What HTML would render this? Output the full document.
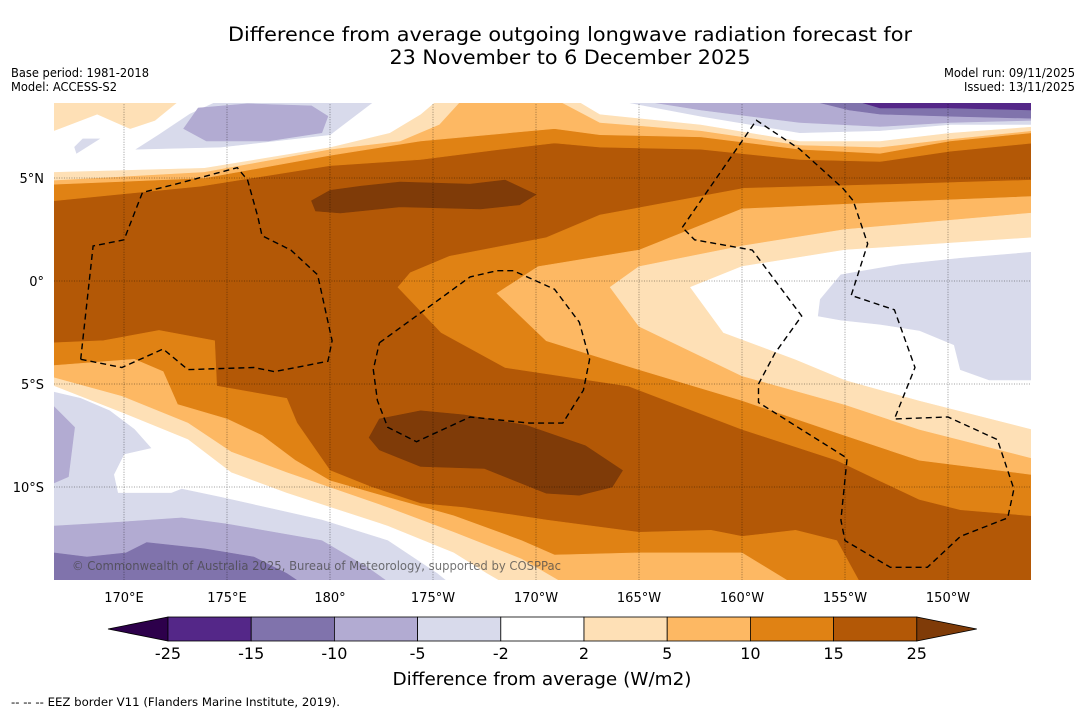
<!DOCTYPE html>
<html><head><meta charset="utf-8">
<style>
html,body{margin:0;padding:0;background:#fff;}
svg{display:block;font-family:"DejaVu Sans","Liberation Sans",sans-serif;}
</style></head>
<body>
<svg id="chart" width="1085" height="713" viewBox="0 0 1085 713" xmlns="http://www.w3.org/2000/svg">
  <rect x="0" y="0" width="1085" height="713" fill="#fff"/>
  <text x="570" y="41" text-anchor="middle" font-size="19.5" textLength="684" lengthAdjust="spacingAndGlyphs" fill="#000">Difference from average outgoing longwave radiation forecast for</text>
  <text x="570" y="64" text-anchor="middle" font-size="19.5" textLength="361" lengthAdjust="spacingAndGlyphs" fill="#000">23 November to 6 December 2025</text>
  <text x="11" y="77" font-size="12" textLength="138" lengthAdjust="spacingAndGlyphs" fill="#000">Base period: 1981-2018</text>
  <text x="11" y="91" font-size="12" textLength="106" lengthAdjust="spacingAndGlyphs" fill="#000">Model: ACCESS-S2</text>
  <text x="1075" y="77" font-size="12" text-anchor="end" textLength="131" lengthAdjust="spacingAndGlyphs" fill="#000">Model run: 09/11/2025</text>
  <text x="1075" y="91" font-size="12" text-anchor="end" textLength="111" lengthAdjust="spacingAndGlyphs" fill="#000">Issued: 13/11/2025</text>
  <defs><clipPath id="mapclip"><rect x="54" y="103" width="977" height="477"/></clipPath></defs>
  <g id="map" clip-path="url(#mapclip)"></g>
  <g id="axes"></g>
  <g id="colorbar"></g>
  <text x="542" y="685" text-anchor="middle" font-size="18" textLength="299" lengthAdjust="spacingAndGlyphs" fill="#000">Difference from average (W/m2)</text>
  <text x="11" y="706" font-size="11.5" textLength="329" lengthAdjust="spacingAndGlyphs" fill="#000">--  --  -- EEZ border V11 (Flanders Marine Institute, 2019).</text>
</svg>
<script>
// ---- data ----
const lonTicks = [170,175,180,185,190,195,200,205,210];
const lonTickLabels = ["170°E","175°E","180°","175°W","170°W","165°W","160°W","155°W","150°W"];
const latTicks = [5,0,-5,-10];
const latTickLabels = ["5°N","0°","5°S","10°S"];
const levelLabels = ["-25","-15","-10","-5","-2","2","5","10","15","25"];
const levelColors = ["#542788","#8073ac","#b2abd2","#d8daeb","#ffffff","#fee0b6","#fdb863","#e08214","#b35806"];
const extendLowColor = "#2d004b";
const extendHighColor = "#7f3b08";
const mapBounds = {lonMin:166.6, lonMax:214.1, latMin:-14.6, latMax:8.7};

// contour bands (lon, lat) — painted in order
const topBand1015 = [[166.6,3.9],[173.7,4.6],[180.0,5.6],[184.4,5.9],[188.3,6.4],[190.9,6.7],[193.1,6.5],[198.0,6.4],[202.8,5.9],[206.7,5.8],[210.1,6.3],[214.1,6.7]];
const topBand510 = [[166.6,4.7],[173.9,5.0],[180.0,6.1],[184.4,6.8],[190.9,7.4],[193.1,7.1],[198.0,7.0],[202.8,6.4],[206.7,6.2],[210.1,6.8],[214.1,7.2]];
const topBand25Left = [[166.6,4.9],[173.9,5.3],[180.0,6.4],[183.4,6.8],[185.3,7.6],[186.3,8.7]];
const topBand25Right = [[191.2,8.7],[193.1,7.7],[198.0,7.3],[202.8,6.6],[206.7,6.5],[210.1,6.9],[214.1,7.3]];
const topWhiteLeft = [[166.6,5.3],[173.9,5.5],[180.0,6.5],[182.9,7.2],[184.4,8.1],[185.1,8.7]];
const topStrip25 = [[166.6,7.3],[168.7,8.1],[170.3,7.4],[171.5,7.8],[172.6,8.7]];
const topWhiteRight = [[192.1,8.7],[193.1,8.1],[198.0,7.6],[202.8,6.8],[206.7,6.8],[210.1,7.2],[214.1,7.5]];
const topLav5Left = [[174.5,8.7],[173.2,8.1],[171.7,7.1],[170.6,6.4],[174.7,6.5],[180.0,7.1],[182.1,8.7]];
const topLav5Blob = [[167.7,6.2],[168.8,6.9],[168.0,6.9],[167.6,6.5]];
const topLav5Right = [[194.3,8.7],[198.0,8.0],[202.8,7.2],[206.7,7.3],[210.1,7.6],[214.1,7.6]];
const topLav10Blob = [[172.9,7.4],[173.6,8.4],[176.0,8.6],[179.1,8.5],[179.9,8.0],[179.6,7.2],[177.0,6.8],[174.0,6.8]];
const topLav10Right = [[195.5,8.7],[198.0,8.3],[202.8,7.7],[206.7,7.5],[210.1,7.7],[214.1,7.8]];
const topPurple15 = [[203.6,8.7],[205.2,8.3],[206.7,8.1],[210.1,8.0],[214.1,7.9]];
const topPurple25 = [[205.7,8.7],[206.7,8.4],[210.1,8.4],[214.1,8.3]];
const darkBlobNorth = [[179.1,3.9],[180.0,4.4],[181.5,4.6],[183.4,4.8],[186.8,4.7],[188.5,4.9],[190.0,4.2],[189.2,3.7],[187.3,3.5],[183.4,3.6],[180.5,3.3],[179.3,3.4]];
const darkBlobSouth = [[181.9,-7.6],[182.4,-6.7],[184.4,-6.3],[186.5,-6.5],[189.5,-7.0],[192.4,-8.0],[194.2,-9.2],[193.7,-10.0],[192.1,-10.4],[190.5,-10.3],[187.5,-9.1],[184.4,-9.0],[182.4,-8.2]];
const tongue1015 = [[214.1,4.9],[207.7,4.7],[200.1,4.5],[193.1,3.2],[190.5,2.1],[185.8,1.2],[183.9,0.4],[183.3,-0.3],[185.4,-2.5],[188.5,-4.2],[194.5,-5.1],[200.0,-7.2],[204.6,-8.7],[206.7,-9.7],[208.6,-10.6],[210.6,-11.1],[214.1,-11.4]];
const tongue510 = [[214.1,4.1],[206.7,3.8],[200.0,3.5],[195.0,1.5],[190.1,0.7],[188.1,-0.6],[190.5,-2.9],[195.0,-4.3],[200.0,-5.8],[205.0,-7.5],[208.6,-8.7],[214.1,-9.4]];
const tongue25 = [[214.1,3.3],[205.0,2.5],[200.0,1.7],[195.0,0.7],[193.6,-0.3],[195.0,-2.2],[200.0,-4.6],[205.0,-6.0],[208.6,-7.2],[214.1,-8.6]];
const tongueWhite = [[214.1,2.1],[205.0,1.5],[200.0,0.7],[197.5,-0.3],[199.1,-2.5],[202.6,-3.8],[205.0,-4.8],[208.6,-5.8],[214.1,-7.2]];
const tongueLav5 = [[203.8,-0.9],[204.8,0.3],[207.7,0.8],[210.6,1.1],[214.1,1.4],[214.1,-4.8],[212.0,-4.8],[210.6,-4.3],[210.3,-3.1],[208.6,-2.4],[206.7,-2.1],[204.8,-1.9],[203.7,-1.7]];
const southBand1015 = [[166.6,-3.0],[169.0,-2.9],[171.7,-2.4],[174.4,-2.9],[174.5,-5.1],[177.9,-5.7],[178.4,-6.9],[180.0,-9.2],[182.0,-10.0],[184.4,-10.8],[186.5,-11.0],[190.5,-11.6],[195.0,-12.2],[198.5,-12.1],[200.0,-12.4],[202.6,-12.1],[204.6,-12.6],[205.7,-14.6]];
const southBand510 = [[166.6,-4.1],[170.5,-3.8],[171.9,-4.4],[172.6,-6.0],[175.0,-6.7],[176.7,-7.5],[178.3,-8.7],[180.0,-9.7],[182.8,-10.5],[186.0,-11.4],[189.3,-12.6],[190.9,-13.3],[195.0,-13.2],[200.0,-13.2],[202.3,-14.6]];
const southBand25 = [[166.6,-4.7],[169.9,-5.6],[173.1,-6.9],[175.2,-8.3],[177.9,-9.3],[182.8,-11.0],[186.0,-12.2],[189.3,-13.5],[191.2,-14.6]];
const southWhite = [[166.6,-5.1],[169.9,-6.4],[173.1,-7.7],[175.2,-9.3],[177.9,-10.3],[182.8,-11.9],[186.0,-13.2],[187.6,-14.2],[188.3,-14.6]];
const southLav5 = [[166.6,-5.4],[167.9,-5.7],[169.3,-6.3],[170.5,-7.2],[171.3,-8.1],[170.0,-8.4],[169.5,-9.4],[169.7,-10.3],[172.3,-10.3],[172.8,-10.1],[174.7,-10.5],[179.6,-11.6],[182.8,-12.6],[185.2,-14.2],[185.7,-14.6]];
const southLav10Blob = [[166.6,-6.1],[167.6,-7.1],[167.3,-9.5],[166.6,-9.8]];
const southLav10 = [[166.6,-11.9],[169.9,-11.7],[172.8,-11.5],[175.0,-11.8],[179.6,-12.6],[181.8,-13.9],[182.8,-14.6]];
const southPurple15 = [[166.6,-13.2],[168.2,-13.4],[170.1,-13.2],[171.1,-12.7],[173.9,-13.0],[176.3,-13.4],[177.9,-14.2],[178.5,-14.6]];

const eezWest = [[167.9,-3.8],[168.5,1.7],[170.0,2.0],[170.9,4.3],[172.5,4.7],[175.5,5.5],[176.0,4.9],[176.5,3.1],[176.7,2.2],[178.1,1.5],[179.4,0.3],[180.1,-2.9],[179.9,-3.9],[177.3,-4.4],[176.3,-4.2],[173.1,-4.3],[171.9,-3.3],[169.9,-4.2],[167.9,-3.8]];
const eezCentral = [[182.4,-3.0],[186.8,0.2],[188.1,0.5],[188.9,0.5],[190.9,-0.4],[192.1,-2.0],[192.6,-3.8],[192.3,-5.3],[191.3,-6.9],[189.7,-6.9],[186.8,-6.6],[184.2,-7.8],[182.8,-7.1],[182.3,-5.8],[182.1,-4.3],[182.4,-3.0]];
const eezEast = [[197.1,2.6],[200.7,7.8],[202.8,6.4],[204.9,4.5],[205.4,3.9],[206.1,1.8],[205.3,-0.7],[207.4,-1.4],[208.4,-4.2],[207.4,-6.7],[210.0,-6.6],[212.4,-7.7],[213.2,-10.1],[212.9,-11.5],[210.6,-12.4],[209.0,-13.9],[207.2,-13.9],[205.0,-12.6],[204.8,-11.6],[205.1,-8.6],[200.8,-5.9],[200.8,-5.0],[201.6,-3.5],[202.9,-1.7],[200.5,1.5],[197.7,2.0],[197.1,2.6]];

// ---- axis functions ----
function X(lon){ return 124 + (lon - 170) * 20.6; }
function Y(lat){ return 281 - lat * 20.6; }
const NS = "http://www.w3.org/2000/svg";
function mk(tag, attrs, parent){
  const e = document.createElementNS(NS, tag);
  for (const k in attrs) e.setAttribute(k, attrs[k]);
  parent.appendChild(e); return e;
}
function ptsStr(arr){ return arr.map(p => X(p[0]).toFixed(1)+","+Y(p[1]).toFixed(1)).join(" "); }
const TL=[mapBounds.lonMin,mapBounds.latMax], TR=[mapBounds.lonMax,mapBounds.latMax];
const BL=[mapBounds.lonMin,mapBounds.latMin], BR=[mapBounds.lonMax,mapBounds.latMin];

const map = document.getElementById('map');
function band(arr, color, name){
  const p = mk('polygon', {points: ptsStr(arr), fill: color, stroke: color, 'stroke-width': 0.6}, map);
  
  
}
const base = mk('rect', {x:X(mapBounds.lonMin), y:Y(mapBounds.latMax), width:X(mapBounds.lonMax)-X(mapBounds.lonMin), height:Y(mapBounds.latMin)-Y(mapBounds.latMax), fill: levelColors[8]}, map);



band([TL].concat(topBand1015,[TR]), levelColors[7], 'band-10-15-north');
band([TL].concat(topBand510,[TR]), levelColors[6], 'band-5-10-north');
band([TL].concat(topBand25Left), levelColors[5], 'band-2-5-north-west');
band(topBand25Right.concat([TR]), levelColors[5], 'band-2-5-north-east');
band([TL].concat(topWhiteLeft), levelColors[4], 'band-neutral-north-west');
band([TL].concat(topStrip25), levelColors[5], 'band-2-5-north-corner');
band(topWhiteRight.concat([TR]), levelColors[4], 'band-neutral-north-east');
band(topLav5Left, levelColors[3], 'band-minus5-north-west');
band(topLav5Blob, levelColors[3], 'band-minus5-north-blob');
band(topLav5Right.concat([TR]), levelColors[3], 'band-minus5-north-east');
band(topLav10Blob, levelColors[2], 'band-minus10-north-west');
band(topLav10Right.concat([TR]), levelColors[2], 'band-minus10-north-east');
band(topPurple15.concat([TR]), levelColors[1], 'band-minus15-north-east');
band(topPurple25.concat([TR]), levelColors[0], 'band-minus25-north-east');
band(darkBlobNorth, extendHighColor, 'band-over-25-north');
band(tongue1015, levelColors[7], 'band-10-15-tongue');
band(tongue510, levelColors[6], 'band-5-10-tongue');
band(tongue25, levelColors[5], 'band-2-5-tongue');
band(tongueWhite, levelColors[4], 'band-neutral-tongue');
band(tongueLav5, levelColors[3], 'band-minus5-east');
band(southBand1015.concat([BL]), levelColors[7], 'band-10-15-south');
band(southBand510.concat([BL]), levelColors[6], 'band-5-10-south');
band(southBand25.concat([BL]), levelColors[5], 'band-2-5-south');
band(southWhite.concat([BL]), levelColors[4], 'band-neutral-south');
band(southLav5.concat([BL]), levelColors[3], 'band-minus5-south');
band(southLav10Blob, levelColors[2], 'band-minus10-south-west');
band(southLav10.concat([BL]), levelColors[2], 'band-minus10-south');
band(southPurple15.concat([BL]), levelColors[1], 'band-minus15-south');
band(darkBlobSouth, extendHighColor, 'band-over-25-south');

// gridlines
lonTicks.forEach(function(lon){
  const l = mk('line', {x1:X(lon), x2:X(lon), y1:Y(mapBounds.latMax), y2:Y(mapBounds.latMin), stroke:'rgba(0,0,0,0.5)', 'stroke-width':0.8, 'stroke-dasharray':'1,1.5'}, map);
  
  
});
latTicks.forEach(function(lat){
  const l = mk('line', {x1:X(mapBounds.lonMin), x2:X(mapBounds.lonMax), y1:Y(lat), y2:Y(lat), stroke:'rgba(0,0,0,0.5)', 'stroke-width':0.8, 'stroke-dasharray':'1,1.5'}, map);
  
  
});

// EEZ borders
[[eezWest,'eez-border-west'],[eezCentral,'eez-border-central'],[eezEast,'eez-border-east']].forEach(function(e){
  const pl = mk('polyline', {points: ptsStr(e[0]), fill:'none', stroke:'#000', 'stroke-width':1.4, 'stroke-dasharray':'6,4'}, map);
  
  
});

const cp = mk('text', {x:72, y:570, 'font-size':12, fill:'rgba(70,70,70,0.75)', textLength:489, lengthAdjust:'spacingAndGlyphs'}, map);


cp.textContent = "© Commonwealth of Australia 2025, Bureau of Meteorology, supported by COSPPac";

// axis labels
const axes = document.getElementById('axes');
lonTicks.forEach(function(lon, i){
  const t = mk('text', {x:X(lon), y:602, 'text-anchor':'middle', 'font-size':13, fill:'#000'}, axes);
  
  
  t.textContent = lonTickLabels[i];
});
latTicks.forEach(function(lat, i){
  const t = mk('text', {x:44, y:Y(lat)+5, 'text-anchor':'end', 'font-size':13, fill:'#000'}, axes);
  
  
  t.textContent = latTickLabels[i];
});

// colorbar
const cb = document.getElementById('colorbar');
const cbX0 = 168, cbW = 83.2, cbY = 617, cbH = 24;
function CBX(i){ return cbX0 + i * cbW; }
const lo = mk('polygon', {points: (CBX(0)-60)+","+(cbY+cbH/2)+" "+CBX(0)+","+cbY+" "+CBX(0)+","+(cbY+cbH), fill: extendLowColor, stroke:'#000', 'stroke-width':0.8}, cb);


levelColors.forEach(function(c, i){
  const r = mk('rect', {x:CBX(i), y:cbY, width:cbW, height:cbH, fill:c, stroke:'#000', 'stroke-width':0.8}, cb);
  
  
});
const n = levelColors.length;
const hi = mk('polygon', {points: CBX(n)+","+cbY+" "+CBX(n)+","+(cbY+cbH)+" "+(CBX(n)+60)+","+(cbY+cbH/2), fill: extendHighColor, stroke:'#000', 'stroke-width':0.8}, cb);


levelLabels.forEach(function(lab, i){
  const t = mk('text', {x:CBX(i), y:659, 'text-anchor':'middle', 'font-size':16, fill:'#000'}, cb);
  
  
  t.textContent = lab;
});
</script>
</body></html>
